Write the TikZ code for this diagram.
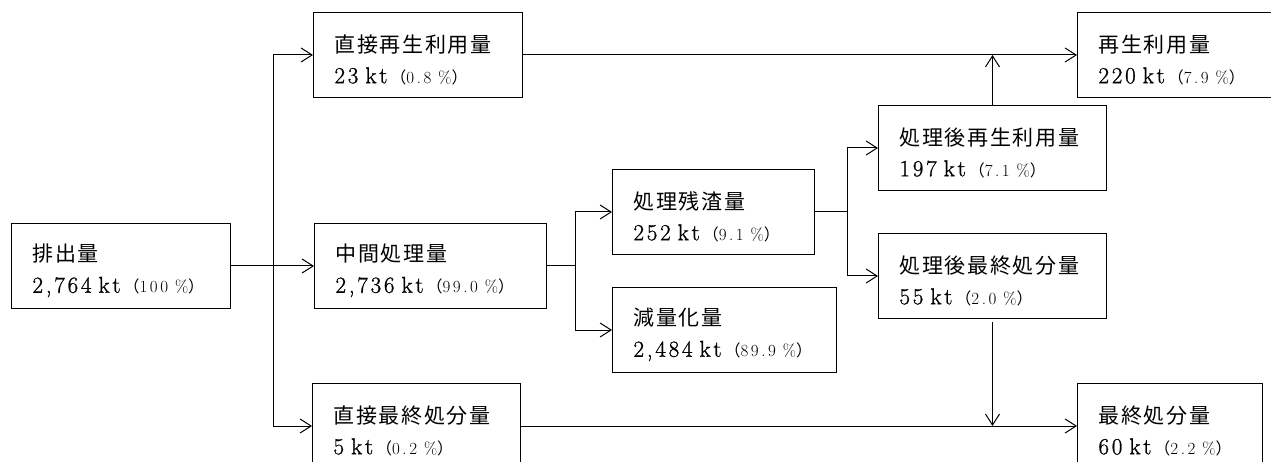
\documentclass[tikz,border=0pt]{standalone}
\usepackage{fontspec}
\usetikzlibrary{arrows.meta}
\newfontfamily\jpfont{Noto Sans CJK JP}[LetterSpace=8]
\newfontfamily\numfont{Latin Modern Roman}[LetterSpace=12,FakeBold=1,WordSpace=1.8]
\newfontfamily\pctfont{Latin Modern Roman}[LetterSpace=15,WordSpace=1.4]
\newcommand{\amount}[2]{{\fontsize{23}{31}\numfont #1}\hspace{3pt}{\fontsize{16}{16}\jpfont （}{\fontsize{17}{17}\pctfont #2}{\fontsize{16}{16}\jpfont ）}}

\begin{document}
\begin{tikzpicture}[x=1pt,y=-1pt,
  box/.style={draw,line width=1pt,anchor=north west,align=left,inner xsep=21pt,inner ysep=0pt,minimum height=85pt,font=\fontsize{21}{31}\jpfont,execute at begin node={\rule{0pt}{27pt}}},
  link/.style={line width=1pt},
  flow/.style={line width=1pt,-{Straight Barb[length=11pt,width=14pt]}}]
\useasboundingbox (0,0) rectangle (1271,462);
% boxes (top-left corners, y measured downwards)
\node[box,text width=177pt] (src) at (11,223) {排出量\\\amount{2,764 kt}{100 \%}};
\node[box,text width=167pt] (drec) at (313,12) {直接再生利用量\\\amount{23 kt}{0.8 \%}};
\node[box,text width=190pt] (mid) at (314,223) {中間処理量\\\amount{2,736 kt}{99.0 \%}};
\node[box,text width=166pt] (dfin) at (312,383) {直接最終処分量\\\amount{5 kt}{0.2 \%}};
\node[box,text width=160pt] (res) at (612,169) {処理残渣量\\\amount{252 kt}{9.1 \%}};
\node[box,text width=182pt] (red) at (612,287) {減量化量\\\amount{2,484 kt}{89.9 \%}};
\node[box,text width=186pt] (prec) at (878,105) {処理後再生利用量\\\amount{197 kt}{7.1 \%}};
\node[box,text width=186pt] (pfin) at (878,233) {処理後最終処分量\\\amount{55 kt}{2.0 \%}};
\node[box,text width=158pt] (rec) at (1077,12) {再生利用量\\\amount{220 kt}{7.9 \%}};
\node[box,text width=143pt] (fin) at (1077,383) {最終処分量\\\amount{60 kt}{2.2 \%}};
% branch points
\coordinate (s1) at ([xshift=42pt]src.east);
\coordinate (s2) at ([xshift=28pt]mid.east);
\coordinate (s3) at ([xshift=32pt]res.east);
% discharge split
\draw[flow] (src.east) -- (mid.west);
\draw[flow] (s1) |- (drec.west);
\draw[flow] (s1) |- (dfin.west);
% intermediate treatment split
\draw[link] (mid.east) -- (s2);
\draw[flow] (s2) |- (res.west);
\draw[flow] (s2) |- (red.west);
% residue split
\draw[link] (res.east) -- (s3);
\draw[flow] (s3) |- (prec.west);
\draw[flow] (s3) |- (pfin.west);
% totals
\draw[flow] (drec.east) -- (rec.west);
\draw[flow] (dfin.east) -- (fin.west);
\draw[flow] (prec.north) -- (prec.north |- drec.east);
\draw[flow,shorten <=3pt] (pfin.south) -- (pfin.south |- dfin.east);
\end{tikzpicture}
\end{document}
